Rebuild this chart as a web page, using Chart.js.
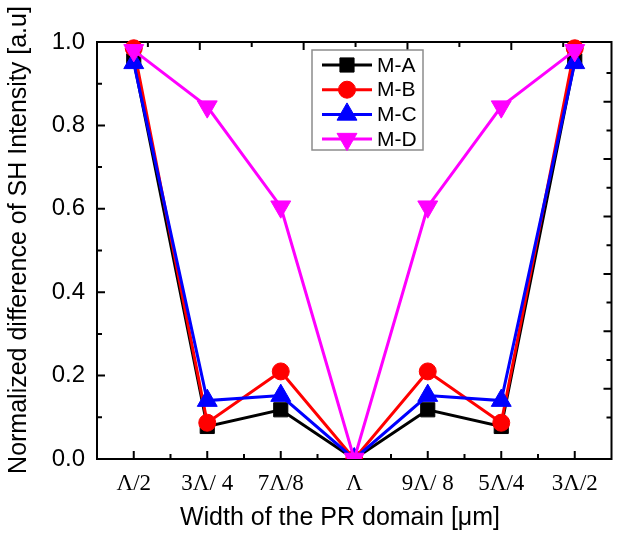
<!DOCTYPE html>
<html><head><meta charset="utf-8">
<script src="https://cdn.jsdelivr.net/npm/chart.js@4.4.1/dist/chart.umd.min.js"></script>
<style>html,body{margin:0;padding:0;background:#fff}#wrap{width:624px;height:534px}</style>
</head><body><div id="wrap"><canvas id="c" width="624" height="534"></canvas></div>
<script>
const categories = ['Λ/2', '3Λ/ 4', '7Λ/8', 'Λ', '9Λ/ 8', '5Λ/4', '3Λ/2'];
const seriesNames = ['M-A', 'M-B', 'M-C', 'M-D'];
const mA = [0.955, 0.078, 0.118, 0.0, 0.118, 0.078, 0.955];
const mB = [0.985, 0.087, 0.21, 0.0, 0.21, 0.087, 0.985];
const mC = [0.95, 0.14, 0.152, 0.0, 0.152, 0.14, 0.95];
const mD = [0.98, 0.845, 0.605, 0.0, 0.605, 0.845, 0.98];
const yTicks = [0.0, 0.2, 0.4, 0.6, 0.8, 1.0];
const yMinorTicks = [0.1, 0.3, 0.5, 0.7, 0.9];
const xMinorTicks = [1.5, 2.5, 3.5, 4.5, 5.5, 6.5];
const topTicks = [1, 2, 3, 4, 5, 6, 7, 8, 9];
const rightTicks = [1, 2, 3, 4, 5, 6, 7, 8, 9, 10, 11, 12, 13];
const xTitle = 'Width of the PR domain [μm]';
const yTitle = 'Normalized difference of SH Intensity [a.u]';

const colors = ['#000000', '#ff0000', '#0000ff', '#ff00ff'];
const styles = [
  {pointStyle: 'rect', radius: 10, rotation: 0},
  {pointStyle: 'circle', radius: 8.5, rotation: 0},
  {pointStyle: 'triangle', radius: 11.5, rotation: 0},
  {pointStyle: 'triangle', radius: 11.5, rotation: 180}
];
const values = [mA, mB, mC, mD];

const datasets = values.map((arr, k) => ({
  label: seriesNames[k],
  data: arr.map((v, i) => ({x: i + 1, y: v})),
  borderColor: colors[k],
  backgroundColor: colors[k],
  borderWidth: 3,
  pointStyle: styles[k].pointStyle,
  pointRadius: styles[k].radius,
  pointHoverRadius: styles[k].radius,
  pointRotation: styles[k].rotation,
  pointBorderWidth: 1,
  pointBackgroundColor: colors[k],
  pointBorderColor: colors[k],
  tension: 0,
  order: 3 - k,
  clip: {left: 20, top: 8, right: 20, bottom: 0}
}));

const framePlugin = {
  id: 'frame',
  beforeDatasetsDraw(chart) {
    const {ctx, chartArea: a, scales} = chart;
    ctx.save();
    ctx.strokeStyle = '#000';
    ctx.lineWidth = 2;
    ctx.beginPath();
    categories.forEach((c, i) => {
      const px = scales.x.getPixelForValue(i + 1);
      ctx.moveTo(px, a.bottom); ctx.lineTo(px, a.bottom - 8);
    });
    xMinorTicks.forEach(v => {
      const px = scales.x.getPixelForValue(v);
      ctx.moveTo(px, a.bottom); ctx.lineTo(px, a.bottom - 5);
    });
    yTicks.forEach(v => {
      const py = scales.y.getPixelForValue(v);
      ctx.moveTo(a.left, py); ctx.lineTo(a.left + 8, py);
    });
    yMinorTicks.forEach(v => {
      const py = scales.y.getPixelForValue(v);
      ctx.moveTo(a.left, py); ctx.lineTo(a.left + 5, py);
    });
    topTicks.forEach(v => {
      const px = scales.x2.getPixelForValue(v);
      const len = v % 2 === 0 ? 8 : 5;
      ctx.moveTo(px, a.top); ctx.lineTo(px, a.top + len);
    });
    rightTicks.forEach(v => {
      const py = scales.y2.getPixelForValue(v);
      const len = v % 2 === 0 ? 8 : 5;
      ctx.moveTo(a.right, py); ctx.lineTo(a.right - len, py);
    });
    ctx.stroke();
    ctx.strokeRect(a.left, a.top, a.right - a.left, a.bottom - a.top);
    ctx.restore();
  },
  afterDraw(chart) {
    const {ctx} = chart;
    ctx.save();
    ctx.fillStyle = '#000';
    ctx.font = '25px "Liberation Sans", Arial, sans-serif';
    ctx.textAlign = 'center';
    ctx.textBaseline = 'middle';
    ctx.fillText(xTitle, 340, 518);
    ctx.translate(19, 240);
    ctx.rotate(-Math.PI / 2);
    ctx.fillText(yTitle, 0, 0);
    ctx.restore();
  }
};

const legendPlugin = {
  id: 'customLegend',
  afterDraw(chart) {
    const {ctx} = chart;
    const x0 = 312, y0 = 50, w = 111, h = 100;
    ctx.save();
    ctx.fillStyle = '#fff';
    ctx.fillRect(x0, y0, w, h);
    ctx.strokeStyle = '#8c8c8c';
    ctx.lineWidth = 1.5;
    ctx.strokeRect(x0, y0, w, h);
    seriesNames.forEach((name, k) => {
      const y = 65 + k * 24.7;
      ctx.strokeStyle = colors[k];
      ctx.lineWidth = 3;
      ctx.beginPath(); ctx.moveTo(322, y); ctx.lineTo(372, y); ctx.stroke();
      ctx.fillStyle = colors[k];
      ctx.strokeStyle = colors[k];
      ctx.lineWidth = 1;
      Chart.helpers.drawPoint(ctx, {pointStyle: styles[k].pointStyle, radius: styles[k].radius, rotation: styles[k].rotation, borderWidth: 1}, 347, y);
      ctx.fillStyle = '#000';
      ctx.font = '21px "Liberation Sans", Arial, sans-serif';
      ctx.textBaseline = 'middle';
      ctx.textAlign = 'left';
      ctx.fillText(name, 377, y + 1);
    });
    ctx.restore();
  }
};

new Chart(document.getElementById('c'), {
  type: 'line',
  data: {datasets},
  options: {
    responsive: false,
    animation: false,
    devicePixelRatio: 1,
    layout: {padding: {left: 0, right: 4, top: 42, bottom: 0}},
    plugins: {legend: {display: false}, tooltip: {enabled: false}},
    scales: {
      x: {
        type: 'linear', position: 'bottom', min: 0.5, max: 7.5,
        afterBuildTicks: s => { s.ticks = categories.map((c, i) => ({value: i + 1})); },
        afterFit: s => { s.height = 75; },
        ticks: {
          callback: v => categories[Math.round(v) - 1],
          font: {family: '"Liberation Serif", "Times New Roman", serif', size: 23},
          color: '#000', padding: 11, maxRotation: 0, autoSkip: false
        },
        grid: {display: false, drawTicks: false},
        border: {display: false},
        title: {display: false}
      },
      y: {
        type: 'linear', position: 'left', min: 0, max: 1,
        afterBuildTicks: s => { s.ticks = yTicks.map(v => ({value: v})); },
        afterFit: s => { s.width = 97; },
        ticks: {
          callback: v => Number(v).toFixed(1),
          font: {family: '"Liberation Sans", Arial, sans-serif', size: 24},
          color: '#000', padding: 12
        },
        grid: {display: false, drawTicks: false},
        border: {display: false},
        title: {display: false}
      },
      x2: {type: 'linear', position: 'top', display: false, min: 0.02, max: 9.93},
      y2: {type: 'linear', position: 'right', display: false, min: -0.45, max: 14.08}
    }
  },
  plugins: [framePlugin, legendPlugin]
});
</script>
</body></html>
